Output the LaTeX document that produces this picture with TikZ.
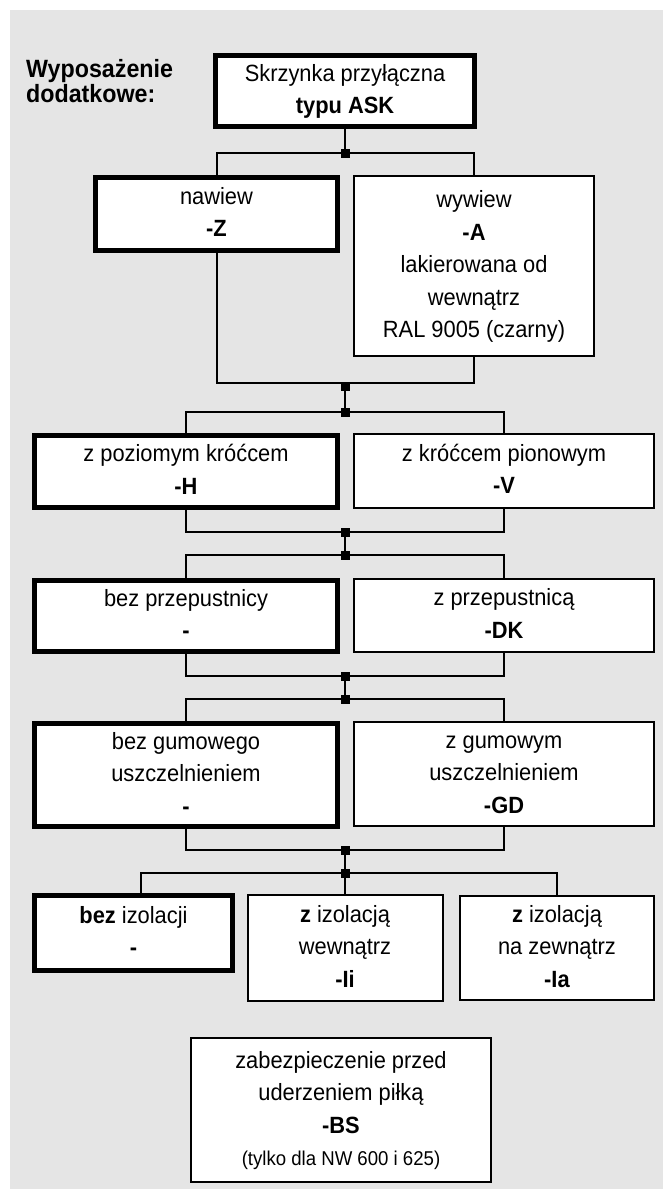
\documentclass[tikz,border=0pt]{standalone}
\usepackage{fontspec}
\setmainfont{Liberation Sans}[FakeStretch=0.93]
\definecolor{panel}{RGB}{229,229,229}
\begin{document}
\begin{tikzpicture}[x=1pt,y=-1pt,
  txt/.style={font=\fontsize{23.5}{32.5}\selectfont, inner sep=0pt, align=center},
  plain/.style={txt, draw, line width=2pt, fill=white},
  chosen/.style={txt, draw, line width=5pt, fill=white},
  link/.style={line width=2pt},
  junc/.style={fill=black, draw=none, minimum size=9pt, inner sep=0pt, shape=rectangle},
]
\useasboundingbox (0,0) rectangle (663,1189);
\fill[panel] (10,10) rectangle (663,1189);

% heading
\node[anchor=north west, align=left, inner sep=0pt,
      font=\bfseries\fontsize{25}{25.5}\selectfont] (title) at (26,59)
  {Wyposażenie\\dodatkowe:};

% boxes
\node[chosen, minimum width=259pt, minimum height=71pt] (ask) at (345,91)
  {\strut Skrzynka przyłączna\\\textbf{typu ASK}\strut};

\node[chosen, minimum width=242pt, minimum height=73pt] (nawiew) at (216.5,214)
  {\strut nawiew\\\textbf{-Z}\strut};
\node[plain, minimum width=240pt, minimum height=180pt] (wywiew) at (474,266)
  {\strut wywiew\\\textbf{-A}\\lakierowana od\\wewnątrz\\RAL 9005 (czarny)\strut};

\node[chosen, minimum width=303pt, minimum height=72pt] (hor) at (186,471.5)
  {\strut z poziomym króćcem\\\textbf{-H}\strut};
\node[plain, minimum width=300pt, minimum height=74pt] (ver) at (504,471)
  {\strut z króćcem pionowym\\\textbf{-V}\strut};

\node[chosen, minimum width=303pt, minimum height=71pt] (nodk) at (186,616)
  {\strut bez przepustnicy\\\textbf{-}\strut};
\node[plain, minimum width=300pt, minimum height=73pt] (dk) at (504,615.5)
  {\strut z przepustnicą\\\textbf{-DK}\strut};

\node[chosen, minimum width=303pt, minimum height=103pt] (nogd) at (186,775)
  {\strut bez gumowego\\uszczelnieniem\\\textbf{-}\strut};
\node[plain, minimum width=300pt, minimum height=104pt] (gd) at (504,774)
  {\strut z gumowym\\uszczelnieniem\\\textbf{-GD}\strut};

\node[chosen, minimum width=198pt, minimum height=75pt] (noiso) at (133.5,933)
  {\strut\textbf{bez} izolacji\\\textbf{-}\strut};
\node[plain, minimum width=195pt, minimum height=106pt] (isoi) at (345,948)
  {\strut\textbf{z} izolacją\\wewnątrz\\\textbf{-Ii}\strut};
\node[plain, minimum width=194pt, minimum height=104pt] (isoa) at (557,948)
  {\strut\textbf{z} izolacją\\na zewnątrz\\\textbf{-Ia}\strut};

\node[plain, minimum width=300pt, minimum height=144pt] (bs) at (341,1110)
  {\strut zabezpieczenie przed\\uderzeniem piłką\\\textbf{-BS}\\
   {\fontsize{20}{28}\selectfont (tylko dla NW 600 i 625)\strut}};

% junction points
\coordinate (j1) at (345,153);
\coordinate (j2) at (345,386);
\coordinate (j3) at (345,412);
\coordinate (j4) at (345,532);
\coordinate (j5) at (345,555);
\coordinate (j6) at (345,676);
\coordinate (j7) at (345,699);
\coordinate (j8) at (345,850);
\coordinate (j9) at (345,873);

% connectors
\draw[link] (ask.south) -- (j1);
\draw[link] (nawiew.north) |- (j1) -| (wywiew.north);
\draw[link] (nawiew.south) |- ([yshift=3pt]j2) -| (wywiew.south);
\draw[link] (j2) -- (j3);
\draw[link] (hor.north) |- (j3) -| (ver.north);
\draw[link] (hor.south) |- (j4) -| (ver.south);
\draw[link] (j4) -- (j5);
\draw[link] (nodk.north) |- (j5) -| (dk.north);
\draw[link] (nodk.south) |- (j6) -| (dk.south);
\draw[link] (j6) -- (j7);
\draw[link] (nogd.north) |- (j7) -| (gd.north);
\draw[link] (nogd.south) |- (j8) -| (gd.south);
\draw[link] (j8) -- (j9);
\draw[link] ([xshift=7.5pt]noiso.north) |- (j9) -| (isoa.north);
\draw[link] (j9) -- (isoi.north);

\foreach \j in {j1,j2,j3,j4,j5,j6,j7,j8,j9}
  \node[junc] at (\j) {};
\end{tikzpicture}
\end{document}
